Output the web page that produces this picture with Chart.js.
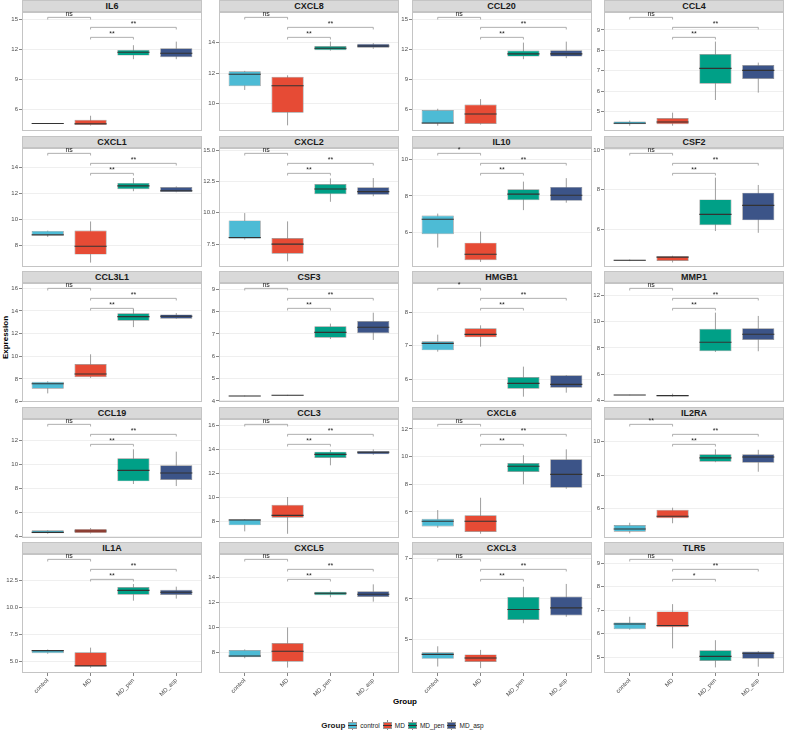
<!DOCTYPE html>
<html>
<head>
<meta charset="utf-8">
<script src="https://cdn.jsdelivr.net/npm/chart.js@4.4.1/dist/chart.umd.min.js"></script>
<style>
  html, body { margin: 0; padding: 0; background: #fff; overflow: hidden; }
  body { position: relative; width: 785px; height: 730px; font-family: "Liberation Sans", Arial, sans-serif; }
  canvas { position: absolute; }
  .strip {
    position: absolute; height: 12px; box-sizing: border-box;
    background: #d9d9d9; border: 1px solid #c4c4c4;
    font-size: 9px; font-weight: bold; line-height: 10px; text-align: center; color: #1a1a1a;
  }
  .axis-title { position: absolute; font-size: 8px; font-weight: bold; color: #000; }
  #legend {
    position: absolute; left: 0; width: 808px; top: 719px; height: 12px;
    display: flex; justify-content: center; align-items: center; font-size: 6.5px; color: #1a1a1a;
  }
  #legend .ttl { font-size: 8px; font-weight: bold; margin-right: 3px; }
  #legend .lbl { margin: 0 3px 0 3px; }
  .key { position: relative; width: 9px; height: 11px; display: inline-block; }
  .key .wh { position: absolute; left: 4px; top: 0; width: 1px; height: 11px; background: #858585; }
  .key .bx { position: absolute; left: 0; top: 2px; width: 9px; height: 7px; box-sizing: border-box; border: 1px solid #999; }
  .key .md { position: absolute; left: 0; top: 5px; width: 9px; height: 1px; background: #333; }
</style>
</head>
<body>
<div class="axis-title" style="left:393px; top:697px;">Group</div>
<div class="axis-title" style="left:-16px; top:333px; transform: rotate(-90deg);">Expression</div>
<div id="legend"></div>
<script>
// groups and genes
const groups = ['control', 'MD', 'MD_pen', 'MD_asp'];
const groupColors = ['#4DBBD5', '#E64B35', '#00A087', '#3C5488'];
const genes = ['IL6', 'CXCL8', 'CCL20', 'CCL4',
               'CXCL1', 'CXCL2', 'IL10', 'CSF2',
               'CCL3L1', 'CSF3', 'HMGB1', 'MMP1',
               'CCL19', 'CCL3', 'CXCL6', 'IL2RA',
               'IL1A', 'CXCL5', 'CXCL3', 'TLR5'];

// box stats per gene: [lower whisker, q1, median, q3, upper whisker] for each group
const IL6    = [[4.5, 4.53, 4.55, 4.57, 4.6], [4.35, 4.4, 4.53, 4.93, 5.33], [11.0, 11.36, 11.7, 11.93, 12.4], [11.0, 11.2, 11.6, 12.1, 12.76]];
const CXCL8  = [[10.9, 11.14, 11.93, 12.12, 12.15], [8.58, 9.41, 11.18, 11.77, 11.86], [13.48, 13.5, 13.63, 13.78, 14.07], [13.6, 13.67, 13.78, 13.93, 13.97]];
const CCL20  = [[4.33, 4.53, 4.6, 5.9, 6.03], [4.45, 4.5, 5.5, 6.46, 7.0], [11.0, 11.26, 11.53, 11.86, 12.66], [11.1, 11.26, 11.53, 11.9, 12.76]];
const CCL4   = [[4.31, 4.38, 4.43, 4.52, 4.56], [4.31, 4.38, 4.49, 4.69, 4.95], [5.57, 6.37, 7.12, 7.82, 8.43], [5.93, 6.6, 7.02, 7.28, 7.4]];
const CXCL1  = [[8.65, 8.78, 8.8, 9.11, 9.13], [6.66, 7.28, 7.93, 9.14, 9.84], [12.18, 12.33, 12.59, 12.82, 13.2], [12.1, 12.12, 12.22, 12.51, 12.55]];
const CXCL2  = [[7.88, 7.93, 8.04, 9.4, 9.98], [6.14, 6.74, 7.51, 8.0, 9.32], [10.88, 11.48, 11.9, 12.3, 12.74], [11.32, 11.43, 11.69, 12.03, 12.77]];
const IL10   = [[5.16, 5.89, 6.72, 6.92, 7.03], [4.37, 4.46, 4.79, 5.43, 6.04], [7.22, 7.77, 8.1, 8.37, 8.79], [7.63, 7.73, 8.04, 8.5, 8.98]];
const CSF2   = [[4.38, 4.4, 4.42, 4.44, 4.46], [4.31, 4.38, 4.58, 4.63, 4.65], [5.9, 6.19, 6.74, 7.5, 8.6], [5.81, 6.44, 7.2, 7.84, 8.23]];
const CCL3L1 = [[6.73, 7.14, 7.58, 7.76, 7.8], [8.1, 8.15, 8.44, 9.32, 10.18], [12.58, 13.14, 13.5, 13.79, 14.15], [13.3, 13.32, 13.53, 13.7, 13.82]];
const CSF3   = [[4.2, 4.21, 4.22, 4.23, 4.24], [4.23, 4.24, 4.25, 4.26, 4.27], [6.77, 6.83, 7.07, 7.34, 7.46], [6.73, 7.03, 7.3, 7.58, 7.95]];
const HMGB1  = [[6.82, 6.86, 7.07, 7.13, 7.33], [6.97, 7.25, 7.34, 7.52, 7.61], [5.47, 5.71, 5.87, 6.06, 6.37], [5.59, 5.74, 5.84, 6.11, 6.12]];
const MMP1   = [[4.41, 4.42, 4.43, 4.44, 4.45], [4.31, 4.33, 4.38, 4.41, 4.53], [7.7, 7.75, 8.43, 9.46, 10.68], [7.75, 8.61, 9.04, 9.49, 10.43]];
const CCL19  = [[4.2, 4.23, 4.31, 4.48, 4.5], [4.22, 4.26, 4.42, 4.59, 4.67], [8.35, 8.57, 9.49, 10.5, 11.25], [8.18, 8.68, 9.27, 9.91, 11.05]];
const CCL3   = [[7.2, 7.7, 8.14, 8.2, 8.22], [7.0, 8.33, 8.53, 9.41, 10.05], [12.68, 13.29, 13.59, 13.81, 13.95], [13.55, 13.59, 13.76, 13.87, 14.0]];
const CXCL6  = [[4.86, 4.96, 5.33, 5.51, 6.14], [4.43, 4.55, 5.33, 5.76, 7.03], [8.0, 8.89, 9.3, 9.54, 10.1], [7.68, 7.76, 8.72, 9.81, 10.53]];
const IL2RA  = [[4.53, 4.63, 4.79, 5.03, 5.16], [5.13, 5.43, 5.55, 5.94, 6.06], [8.78, 8.81, 9.04, 9.25, 9.55], [8.21, 8.75, 9.09, 9.25, 9.52]];
const IL1A   = [[5.7, 5.75, 5.99, 6.05, 6.1], [4.4, 4.5, 4.59, 5.84, 6.27], [10.64, 11.2, 11.6, 11.91, 12.19], [10.83, 11.17, 11.42, 11.66, 11.94]];
const CXCL5  = [[7.55, 7.63, 7.73, 8.21, 8.25], [6.8, 7.27, 8.1, 8.76, 10.0], [12.41, 12.57, 12.73, 12.85, 12.95], [12.06, 12.43, 12.65, 12.88, 13.44]];
const CXCL3  = [[4.33, 4.52, 4.63, 4.68, 4.83], [4.29, 4.44, 4.54, 4.63, 4.74], [5.4, 5.48, 5.74, 6.05, 6.3], [5.56, 5.59, 5.78, 6.06, 6.37]];
const TLR5   = [[6.17, 6.19, 6.41, 6.48, 6.72], [5.37, 6.27, 6.35, 6.95, 7.26], [4.56, 4.83, 5.03, 5.29, 5.72], [4.59, 4.93, 5.16, 5.24, 5.26]];

// y axis range and tick labels per gene (same order as genes)
const yLimits = [[3.8, 15.73], [8.21, 16.01], [3.8, 15.73], [4.05, 9.88],
                 [6.32, 15.52], [5.69, 15.16], [4.09, 10.64], [4.08, 10.10],
                 [5.97, 16.47], [3.95, 9.28], [5.31, 8.88], [3.9, 12.93],
                 [3.84, 13.78], [6.65, 16.52], [4.12, 12.72], [4.25, 11.36],
                 [3.91, 14.98], [6.37, 15.86], [4.17, 7.11], [4.32, 9.4]];
const yTicks = [[6, 9, 12, 15], [10, 12, 14], [6, 9, 12, 15], [5, 6, 7, 8, 9],
                [8, 10, 12, 14], [7.5, 10, 12.5, 15], [6, 8, 10], [6, 8, 10],
                [6, 8, 10, 12, 14, 16], [4, 5, 6, 7, 8, 9], [6, 7, 8], [4, 6, 8, 10, 12],
                [4, 6, 8, 10, 12], [8, 10, 12, 14, 16], [6, 8, 10, 12], [6, 8, 10],
                [5, 7.5, 10, 12.5], [8, 10, 12, 14], [5, 6, 7], [5, 6, 7, 8, 9]];

// significance: [control vs MD, MD vs MD_pen, MD vs MD_asp]
const sigLabels = [['ns', '**', '**'], ['ns', '**', '**'], ['ns', '**', '**'], ['ns', '**', '**'],
                   ['ns', '**', '**'], ['ns', '**', '**'], ['*', '**', '**'], ['ns', '**', '**'],
                   ['ns', '**', '**'], ['ns', '**', '**'], ['*', '**', '**'], ['ns', '**', '**'],
                   ['ns', '**', '**'], ['ns', '**', '**'], ['ns', '**', '**'], ['**', '**', '**'],
                   ['ns', '**', '**'], ['ns', '**', '**'], ['ns', '**', '**'], ['ns', '*', '**']];
const sigPairs = [[1, 2], [2, 3], [2, 4]];

const statsByGene = { IL6, CXCL8, CCL20, CCL4, CXCL1, CXCL2, IL10, CSF2, CCL3L1, CSF3,
                      HMGB1, MMP1, CCL19, CCL3, CXCL6, IL2RA, IL1A, CXCL5, CXCL3, TLR5 };

// layout
const colLeft = [22, 219, 411.5, 604];
const rowTop = [0, 135.5, 271, 406.5, 542];
const panelW = 180, stripH = 12, plotH = 119, axisW = 22, xAxisH = 30;
// bracket heights as fraction of panel height from top
const sigLevels = [0.045, 0.213, 0.129];
const FONT = '"Liberation Sans", Arial, sans-serif';

// draws whiskers, medians, panel border and significance brackets
function makeBoxPlugin(stats, sig) {
    return {
        id: 'boxPlot',
        beforeDatasetsDraw(chart) {
            const ctx = chart.ctx, y = chart.scales.y;
            const bars = chart.getDatasetMeta(0).data;
            ctx.save();
            ctx.strokeStyle = '#858585';
            ctx.lineWidth = 0.8;
            stats.forEach((s, i) => {
                const x = bars[i].x;
                ctx.beginPath();
                ctx.moveTo(x, y.getPixelForValue(s[0]));
                ctx.lineTo(x, y.getPixelForValue(s[4]));
                ctx.stroke();
            });
            ctx.restore();
        },
        afterDatasetsDraw(chart) {
            const ctx = chart.ctx, y = chart.scales.y, xs = chart.scales.x;
            const a = chart.chartArea;
            const bars = chart.getDatasetMeta(0).data;
            ctx.save();
            // medians
            ctx.strokeStyle = '#333';
            ctx.lineWidth = 1.1;
            stats.forEach((s, i) => {
                const b = bars[i];
                const py = y.getPixelForValue(s[2]);
                ctx.beginPath();
                ctx.moveTo(b.x - b.width / 2, py);
                ctx.lineTo(b.x + b.width / 2, py);
                ctx.stroke();
            });
            // panel border
            ctx.strokeStyle = '#c4c4c4';
            ctx.lineWidth = 1;
            ctx.strokeRect(a.left + 0.5, a.top + 0.5, a.width - 1, a.height - 1);
            // brackets
            const range = y.max - y.min;
            ctx.font = '7px ' + FONT;
            ctx.textAlign = 'center';
            ctx.textBaseline = 'alphabetic';
            sigPairs.forEach((p, k) => {
                const lv = y.max - sigLevels[k] * range;
                const py = y.getPixelForValue(lv);
                const tip = y.getPixelForValue(lv - 0.018 * range);
                const x1 = xs.getPixelForValue(p[0]), x2 = xs.getPixelForValue(p[1]);
                ctx.strokeStyle = '#9a9a9a';
                ctx.lineWidth = 0.8;
                ctx.beginPath();
                ctx.moveTo(x1, tip);
                ctx.lineTo(x1, py);
                ctx.lineTo(x2, py);
                ctx.lineTo(x2, tip);
                ctx.stroke();
                ctx.fillStyle = '#1a1a1a';
                ctx.fillText(sig[k], (x1 + x2) / 2, py - 1);
            });
            ctx.restore();
        }
    };
}

function makePanel(gi) {
    const gene = genes[gi];
    const stats = statsByGene[gene];
    const col = gi % 4, row = Math.floor(gi / 4);
    const bottomRow = row === 4;
    const left = colLeft[col], top = rowTop[row];

    const strip = document.createElement('div');
    strip.className = 'strip';
    strip.style.left = left + 'px';
    strip.style.top = top + 'px';
    strip.style.width = panelW + 'px';
    strip.textContent = gene;
    document.body.appendChild(strip);

    const canvas = document.createElement('canvas');
    canvas.width = axisW + panelW + 2;
    canvas.height = 6 + plotH + (bottomRow ? xAxisH : 6);
    canvas.style.left = (left - axisW) + 'px';
    canvas.style.top = (top + stripH - 6) + 'px';
    document.body.appendChild(canvas);

    const ticks = yTicks[gi];
    const decimals = ticks.some(v => v % 1 !== 0) ? 1 : 0;

    new Chart(canvas.getContext('2d'), {
        type: 'bar',
        data: {
            datasets: [{
                data: stats.map((s, i) => ({ x: i + 1, y: [s[1], s[3]] })),
                backgroundColor: groupColors,
                borderColor: '#8c8c8c',
                borderWidth: 0.7,
                borderSkipped: false,
                barPercentage: 0.75,
                categoryPercentage: 1
            }]
        },
        options: {
            responsive: false,
            maintainAspectRatio: false,
            animation: false,
            events: [],
            layout: { padding: { top: 6, bottom: bottomRow ? 0 : 6, left: 0, right: 2 } },
            plugins: { legend: { display: false }, tooltip: { enabled: false } },
            scales: {
                x: {
                    type: 'linear',
                    min: 0.4,
                    max: 4.6,
                    offset: false,
                    display: bottomRow,
                    afterBuildTicks: axis => { axis.ticks = [1, 2, 3, 4].map(v => ({ value: v })); },
                    afterFit: axis => { axis.height = bottomRow ? xAxisH : 0; },
                    border: { display: false },
                    grid: { drawOnChartArea: false, offset: false, tickLength: 3, tickColor: '#666', lineWidth: 0.8 },
                    ticks: {
                        autoSkip: false,
                        minRotation: 45,
                        maxRotation: 45,
                        padding: 1,
                        color: '#4d4d4d',
                        font: { family: FONT, size: 6 },
                        callback: v => groups[v - 1]
                    }
                },
                y: {
                    min: yLimits[gi][0],
                    max: yLimits[gi][1],
                    afterBuildTicks: axis => { axis.ticks = ticks.map(v => ({ value: v })); },
                    afterFit: axis => { axis.width = axisW; },
                    border: { display: false },
                    grid: { color: '#ebebeb', lineWidth: 0.8, tickLength: 3, tickColor: '#666' },
                    ticks: {
                        padding: 1,
                        color: '#4d4d4d',
                        font: { family: FONT, size: 6 },
                        callback: v => v.toFixed(decimals)
                    }
                }
            }
        },
        plugins: [makeBoxPlugin(stats, sigLabels[gi])]
    });
}

// legend
function buildLegend() {
    const lg = document.getElementById('legend');
    let html = '<span class="ttl">Group</span>';
    groups.forEach((g, i) => {
        html += '<span class="key"><span class="wh"></span><span class="bx" style="background:' + groupColors[i] +
                '"></span><span class="md"></span></span><span class="lbl">' + g + '</span>';
    });
    lg.innerHTML = html;
}

document.addEventListener('DOMContentLoaded', () => {
    genes.forEach((g, i) => makePanel(i));
    buildLegend();
});
</script>
</body>
</html>
